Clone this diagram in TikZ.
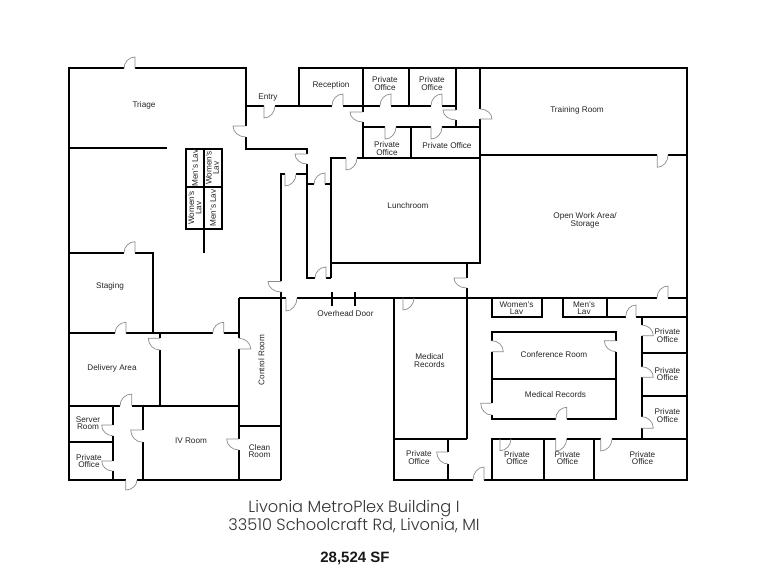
\documentclass[tikz,border=0pt]{standalone}
\usepackage{fontspec}
\setmainfont{Liberation Sans}
\newfontfamily\titlefont{Poppins Light}
\usetikzlibrary{calc}
\tikzset{
  wall/.style={line width=2pt,line cap=butt,line join=miter,draw=black},
  doorleaf/.style={line width=0.7pt,draw=black!45},
  lbl/.style={font=\fontsize{8.2}{7.2}\selectfont,align=center,inner sep=0pt,text=black!85},
  titlelbl/.style={font=\titlefont\fontsize{16.2}{16}\selectfont,align=center,inner sep=0pt,text=black!80},
}
\newcommand{\dr}[6]{\draw[doorleaf] (#1,#2) -- (#3,#4) .. controls ($(#3,#4)+0.55*(#5,#6)-0.55*(#1,#2)$) and ($(#5,#6)+0.55*(#3,#4)-0.55*(#1,#2)$) .. (#5,#6);}
\begin{document}
\begin{tikzpicture}[x=1pt,y=-1pt]
\useasboundingbox (0,0) rectangle (761,588);
\fill[white] (0,0) rectangle (761,588);
% outer left, Triage, top
\draw[wall] (124,68.5) -- (68.5,68.5) -- (68.5,480) -- (125.7,480);
\draw[wall] (137,480) -- (281,480);
\draw[wall] (135,68.5) -- (245.7,68.5) -- (245.7,126);
\draw[wall] (245.7,137) -- (245.7,149) -- (307,149) -- (307,154);
\draw[wall] (307,164) -- (307,278) -- (315,278);
\draw[wall] (326,278) -- (331,278);
\draw[wall] (68.5,148) -- (167,148);
% entry and north corridor
\draw[wall] (245.7,105.7) -- (264,105.7);
\draw[wall] (275,105.7) -- (332,105.7);
\draw[wall] (343,105.7) -- (380,105.7);
\draw[wall] (391,105.7) -- (431,105.7);
\draw[wall] (442,105.7) -- (456,105.7);
\draw[wall] (298.5,105.7) -- (298.5,68.5) -- (687,68.5) -- (687,480) -- (484,480);
\draw[wall] (473,480) -- (393.5,480) -- (393.5,298);
\draw[wall] (362.7,68.5) -- (362.7,112);
\draw[wall] (362.7,122) -- (362.7,158);
\draw[wall] (409,68.5) -- (409,105.7);
\draw[wall] (456,68.5) -- (456,110);
\draw[wall] (456,120) -- (456,127);
\draw[wall] (362.7,127) -- (385,127);
\draw[wall] (396,127) -- (431,127);
\draw[wall] (442,127) -- (480,127);
\draw[wall] (480,68.5) -- (480,109);
\draw[wall] (480,119) -- (480,263) -- (331,263);
\draw[wall] (410.7,127) -- (410.7,158);
\draw[wall] (331,278) -- (331,158) -- (346,158);
\draw[wall] (357,158) -- (480,158);
\draw[wall] (480,155) -- (657.3,155);
\draw[wall] (668,155) -- (687,155);
% corridor by lunchroom
\draw[wall] (307,184.3) -- (314,184.3);
\draw[wall] (325,184.3) -- (331,184.3);
\draw[wall] (285,174) -- (281,174) -- (281,281.5);
\draw[wall] (296,174) -- (307,174);
\draw[wall] (281,292) -- (281,480);
% main horizontal
\draw[wall] (239,297.8) -- (286,297.8);
\draw[wall] (297,297.8) -- (657,297.8);
\draw[wall] (668,297.8) -- (687,297.8);
\draw[wall] (331.7,292) -- (331.7,306);
\draw[wall] (355,292) -- (355,306);
\draw[wall] (466.7,263) -- (466.7,278);
\draw[wall] (466.7,288) -- (466.7,439);
\draw[wall] (393.5,438.7) -- (466.7,438.7);
\draw[wall] (448,438.7) -- (448,452);
\draw[wall] (448,464) -- (448,480);
% lavs south
\draw[wall] (491.7,297.8) -- (491.7,316.7) -- (541.7,316.7) -- (541.7,297.8);
\draw[wall] (562.7,297.8) -- (562.7,316.7) -- (625.7,316.7);
\draw[wall] (636,316.7) -- (687,316.7);
\draw[wall] (607.3,297.8) -- (607.3,316.7);
% right offices
\draw[wall] (641.7,316.7) -- (641.7,325);
\draw[wall] (641.7,335.7) -- (641.7,366.7);
\draw[wall] (641.7,377.3) -- (641.7,416.7);
\draw[wall] (641.7,428.3) -- (641.7,438.7);
\draw[wall] (641.7,353) -- (687,353);
\draw[wall] (641.7,395.7) -- (687,395.7);
% south offices
\draw[wall] (491.7,480) -- (491.7,438.7) -- (555.7,438.7);
\draw[wall] (566.7,438.7) -- (600.7,438.7);
\draw[wall] (612,438.7) -- (687,438.7);
\draw[wall] (544.3,438.7) -- (544.3,480);
\draw[wall] (594.3,438.7) -- (594.3,480);
% conference block
\draw[wall] (491.7,340.7) -- (491.7,332.3) -- (616,332.3) -- (616,340.7);
\draw[wall] (616,351.7) -- (616,419.3) -- (566.7,419.3);
\draw[wall] (555.7,419.3) -- (491.7,419.3) -- (491.7,415);
\draw[wall] (491.7,351.7) -- (491.7,403.3);
\draw[wall] (491.7,379.3) -- (616,379.3);
% lav block
\draw[wall] (186,149) rectangle (221.7,229);
\draw[wall] (204,149) -- (204,253);
\draw[wall] (186,187.3) -- (221.7,187.3);
% staging, delivery
\draw[wall] (68.5,252.7) -- (124,252.7);
\draw[wall] (135,252.7) -- (152.7,252.7) -- (152.7,333.3);
\draw[wall] (68.5,333.3) -- (115,333.3);
\draw[wall] (126,333.3) -- (212.7,333.3);
\draw[wall] (223.7,333.3) -- (239,333.3);
\draw[wall] (160,333.3) -- (160,338.3);
\draw[wall] (160,350) -- (160,405.7);
\draw[wall] (239,297.8) -- (239,338.3);
\draw[wall] (239,349) -- (239,439);
\draw[wall] (239,450) -- (239,480);
\draw[wall] (239,425.7) -- (281,425.7);
\draw[wall] (68.5,405.7) -- (120,405.7);
\draw[wall] (131.7,405.7) -- (239,405.7);
\draw[wall] (112.7,405.7) -- (112.7,425);
\draw[wall] (112.7,435.7) -- (112.7,461);
\draw[wall] (112.7,471) -- (112.7,480);
\draw[wall] (68.5,441.7) -- (112.7,441.7);
\draw[wall] (142.7,405.7) -- (142.7,430);
\draw[wall] (142.7,442.3) -- (142.7,480);
% doors: hinge, leaf tip, arc end
\dr{135}{68.5}{135}{57}{124}{68.5}
\dr{245.7}{126}{233}{126}{245.7}{137}
\dr{264}{105.7}{264}{118}{275}{105.7}
\dr{307}{154}{295}{154}{307}{164}
\dr{343}{105.7}{343}{94}{332}{105.7}
\dr{362.7}{112}{350}{112}{362.7}{122}
\dr{391}{105.7}{391}{94}{380}{105.7}
\dr{442}{105.7}{442}{94}{431}{105.7}
\dr{456}{110}{443}{110}{456}{120}
\dr{385}{127}{385}{139}{396}{127}
\dr{431}{127}{431}{139}{442}{127}
\dr{480}{119}{492}{119}{480}{109}
\dr{346}{158}{346}{170}{357}{158}
\dr{325}{184.3}{325}{173}{314}{184.3}
\dr{326}{278}{326}{267}{315}{278}
\dr{285}{174}{285}{186}{296}{174}
\dr{281}{281.5}{268}{281.5}{281}{292}
\dr{286}{297.8}{286}{311}{297}{297.8}
\dr{403}{297.8}{403}{310}{414}{297.8}
\dr{466.7}{278}{454}{278}{466.7}{288}
\dr{484}{480}{484}{467}{473}{480}
\dr{448}{452}{436.7}{452}{448}{464}
\dr{636}{316.7}{636}{305}{625.7}{316.7}
\dr{668}{297.8}{668}{286}{657}{297.8}
\dr{657.3}{155}{657.3}{167.3}{668}{155}
\dr{641.7}{335.7}{653.3}{335.7}{641.7}{325}
\dr{641.7}{377.3}{653.3}{377.3}{641.7}{366.7}
\dr{641.7}{428.3}{653.3}{428.3}{641.7}{416.7}
\dr{500}{438.7}{500}{450.7}{511}{438.7}
\dr{555.7}{438.7}{555.7}{451}{566.7}{438.7}
\dr{600.7}{438.7}{600.7}{451}{612}{438.7}
\dr{491.7}{351.7}{503.3}{351.7}{491.7}{340.7}
\dr{491.7}{403.3}{480.7}{403.3}{491.7}{415}
\dr{616}{340.7}{604.3}{340.7}{616}{351.7}
\dr{566.7}{419.3}{566.7}{407.3}{555.7}{419.3}
\dr{135}{252.7}{135}{241.7}{124}{252.7}
\dr{126}{333.3}{126}{322.3}{115}{333.3}
\dr{223.7}{333.3}{223.7}{322.3}{212.7}{333.3}
\dr{160}{338.3}{148.3}{338.3}{160}{350}
\dr{239}{349}{250.7}{349}{239}{338.3}
\dr{239}{439}{226.7}{439}{239}{450}
\dr{131.7}{405.7}{131.7}{394}{120}{405.7}
\dr{112.7}{425}{101.7}{425}{112.7}{435.7}
\dr{112.7}{461}{101.7}{461}{112.7}{471}
\dr{142.7}{430}{130.7}{430}{142.7}{442.3}
\dr{125.7}{480}{125.7}{490}{137}{480}
% labels
\node[lbl] (triage) at (144,105.5) {Triage};
\node[lbl] (entry) at (268,97.5) {Entry};
\node[lbl] (recep) at (331,85.5) {Reception};
\node[lbl] (po1) at (385,83.5) {Private\\Office};
\node[lbl] (po2) at (432,83.5) {Private\\Office};
\node[lbl] (po3) at (387,148.5) {Private\\Office};
\node[lbl] (po4) at (447,145.5) {Private Office};
\node[lbl] (train) at (577,110) {Training Room};
\node[lbl] (lunch) at (408,205.5) {Lunchroom};
\node[lbl] (open) at (585,220.5) {Open Work Area/\\Storage};
\node[lbl,rotate=90] (ml1) at (195,168) {Men's Lav};
\node[lbl,rotate=90] (wl1) at (212.5,168) {Women's\\Lav};
\node[lbl,rotate=90] (wl2) at (195,208) {Women's\\Lav};
\node[lbl,rotate=90] (ml2) at (213,208) {Men's Lav};
\node[lbl] (staging) at (110,286.5) {Staging};
\node[lbl] (overhead) at (345.5,314) {Overhead Door};
\node[lbl] (deliv) at (112,368) {Delivery Area};
\node[lbl,rotate=90] (ctrl) at (261.5,360) {Control Room};
\node[lbl] (clean) at (259.5,451) {Clean\\Room};
\node[lbl] (iv) at (191,441) {IV Room};
\node[lbl] (server) at (88,423.5) {Server\\Room};
\node[lbl] (po5) at (89,461) {Private\\Office};
\node[lbl] (mr1) at (429.5,360.5) {Medical\\Records};
\node[lbl] (po6) at (419,457.5) {Private\\Office};
\node[lbl] (wlav) at (516.5,308) {Women's\\Lav};
\node[lbl] (mlav) at (584,308) {Men's\\Lav};
\node[lbl] (conf) at (554,354.5) {Conference Room};
\node[lbl] (mr2) at (555.5,395) {Medical Records};
\node[lbl] (po7) at (517,458) {Private\\Office};
\node[lbl] (po8) at (567.5,458) {Private\\Office};
\node[lbl] (po9) at (642.5,458) {Private\\Office};
\node[lbl] (po10) at (667.5,335.5) {Private\\Office};
\node[lbl] (po11) at (667.5,374) {Private\\Office};
\node[lbl] (po12) at (667.5,415.5) {Private\\Office};
\node[titlelbl] (title) at (354,516.5) {Livonia MetroPlex Building I\\33510 Schoolcraft Rd, Livonia, MI};
\node[font=\bfseries\fontsize{15}{15}\selectfont,inner sep=0pt,text=black!90] (sf) at (355,558) {28,524 SF};
\end{tikzpicture}
\end{document}
